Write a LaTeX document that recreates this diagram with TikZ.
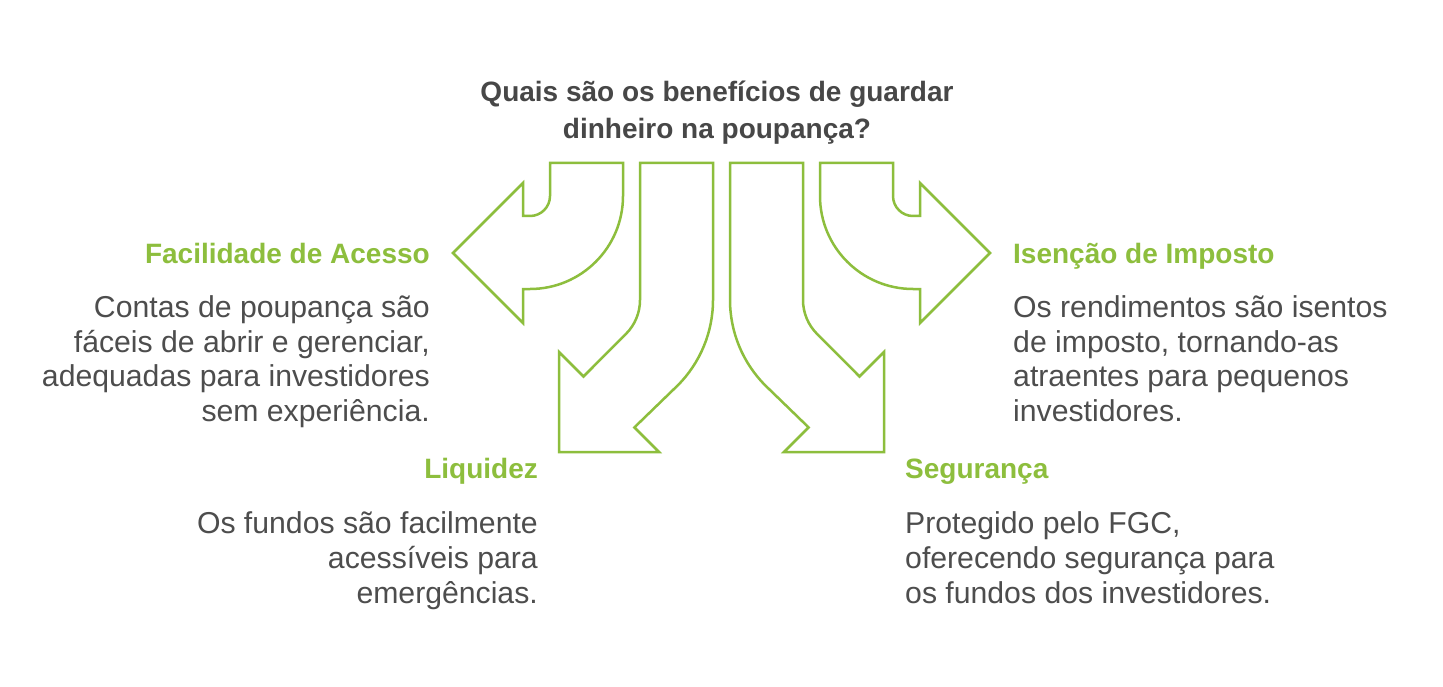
\documentclass[tikz,border=0pt]{standalone}
\usepackage{fontspec}
\setmainfont{Liberation Sans}
\definecolor{leaf}{HTML}{8DBE3D}
\definecolor{inktitle}{HTML}{474747}
\definecolor{inkbody}{HTML}{4D4D4D}
\begin{document}
\begin{tikzpicture}[x=1pt,y=-1pt,
  arrowbox/.style={draw=leaf, line width=2.5pt, fill=white, line join=miter},
  titletext/.style={font=\bfseries\fontsize{28}{34}\selectfont, text=inktitle, inner sep=0pt, anchor=base},
  headR/.style={font=\bfseries\fontsize{28}{34}\selectfont, text=leaf, inner sep=0pt, anchor=base east},
  headL/.style={font=\bfseries\fontsize{28}{34}\selectfont, text=leaf, inner sep=0pt, anchor=base west},
  bodyR/.style={font=\fontsize{30.2}{36}\selectfont, text=inkbody, inner sep=0pt, anchor=base east},
  bodyL/.style={font=\fontsize{30.2}{36}\selectfont, text=inkbody, inner sep=0pt, anchor=base west}]
\useasboundingbox[fill=white] (0,0) rectangle (1443,687);

% title
\node[titletext] (t1) at (717,101.5) {Quais são os benefícios de guardar};
\node[titletext] (t2) at (717,138.3) {dinheiro na poupança?};

% left arrows
\draw[arrowbox] (550,163) -- (623,163) -- (623,196)
  arc[start angle=0, end angle=90, radius=93] -- (523,289) -- (523,323)
  -- (453,253) -- (523,183) -- (523,216) -- (530,216)
  arc[start angle=90, end angle=0, radius=20] -- cycle;
\draw[arrowbox] (640,163) -- (713,163) -- (713,300)
  arc[start angle=0, end angle=45, radius=121] -- (634.4,427.4) -- (659,452)
  -- (559,452) -- (559,352) -- (583.5,376.5) -- (625.94,333.94)
  arc[start angle=45, end angle=0, radius=48] -- cycle;

% right arrows (mirror)
\begin{scope}[xshift=1443pt, xscale=-1]
\draw[arrowbox] (550,163) -- (623,163) -- (623,196)
  arc[start angle=0, end angle=90, radius=93] -- (523,289) -- (523,323)
  -- (453,253) -- (523,183) -- (523,216) -- (530,216)
  arc[start angle=90, end angle=0, radius=20] -- cycle;
\draw[arrowbox] (640,163) -- (713,163) -- (713,300)
  arc[start angle=0, end angle=45, radius=121] -- (634.4,427.4) -- (659,452)
  -- (559,452) -- (559,352) -- (583.5,376.5) -- (625.94,333.94)
  arc[start angle=45, end angle=0, radius=48] -- cycle;
\end{scope}

% Facilidade de Acesso
\node[headR] (h1) at (430,263.3) {Facilidade de Acesso};
\node[bodyR] (b1a) at (430,317.3) {Contas de poupança são};
\node[bodyR] (b1b) at (430,352) {fáceis de abrir e gerenciar,};
\node[bodyR] (b1c) at (430,386.7) {adequadas para investidores};
\node[bodyR] (b1d) at (430,421.5) {sem experiência.};

% Isenção de Imposto
\node[headL] (h2) at (1013,263.3) {Isenção de Imposto};
\node[bodyL] (b2a) at (1013,317.3) {Os rendimentos são isentos};
\node[bodyL] (b2b) at (1013,352) {de imposto, tornando-as};
\node[bodyL] (b2c) at (1013,386.7) {atraentes para pequenos};
\node[bodyL] (b2d) at (1013,421.5) {investidores.};

% Liquidez
\node[headR] (h3) at (538,478.3) {Liquidez};
\node[bodyR] (b3a) at (538,533.3) {Os fundos são facilmente};
\node[bodyR] (b3b) at (538,568.3) {acessíveis para};
\node[bodyR] (b3c) at (538,603.3) {emergências.};

% Segurança
\node[headL] (h4) at (905,478.3) {Segurança};
\node[bodyL] (b4a) at (905,533.3) {Protegido pelo FGC,};
\node[bodyL] (b4b) at (905,568.3) {oferecendo segurança para};
\node[bodyL] (b4c) at (905,603.3) {os fundos dos investidores.};
\end{tikzpicture}
\end{document}
